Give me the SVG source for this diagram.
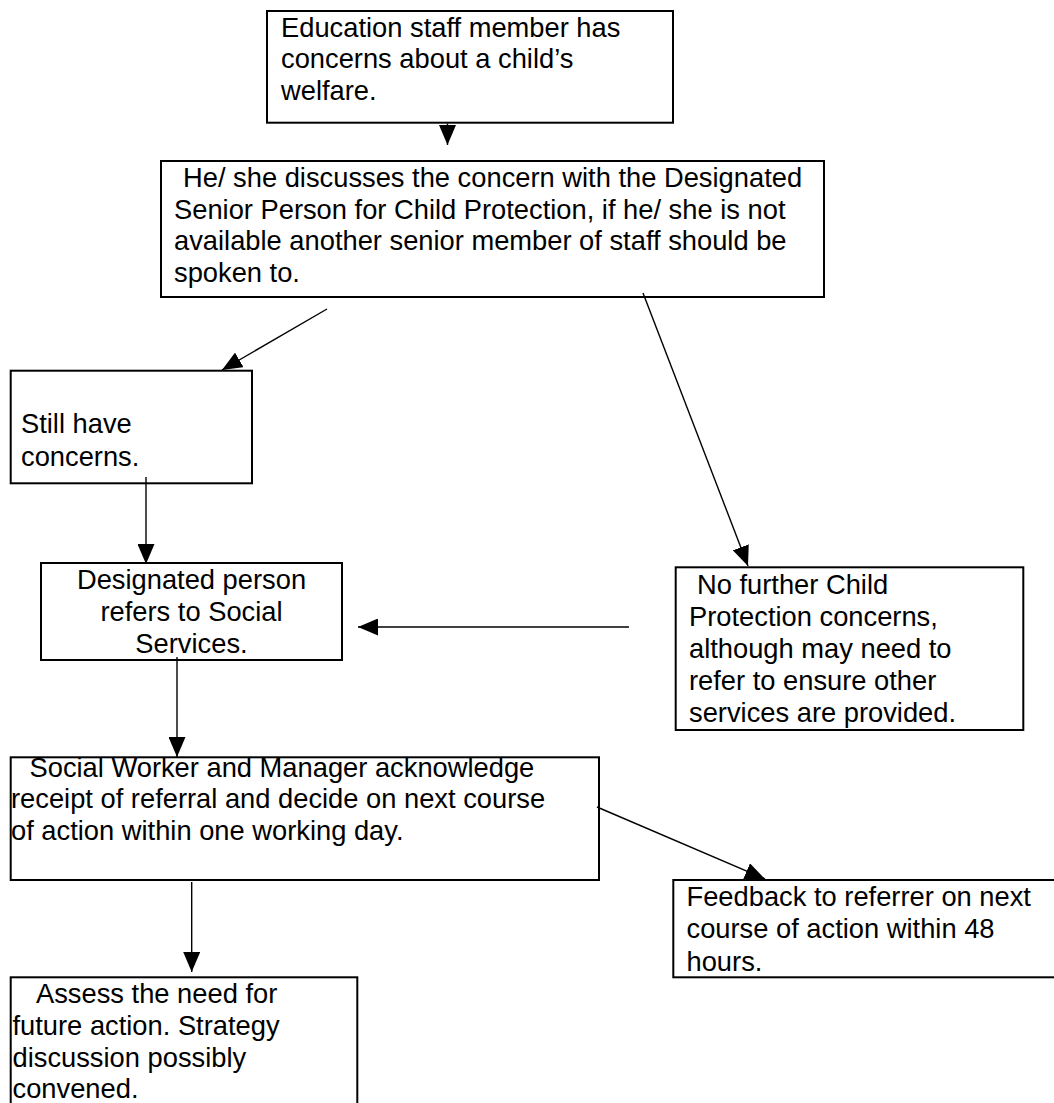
<svg xmlns="http://www.w3.org/2000/svg" width="1054" height="1103" viewBox="0 0 1054 1103">
<style>
.box{fill:#fff;stroke:#000;stroke-width:2}
.t{font-family:"Liberation Sans",Arial,sans-serif;font-size:27.3px;fill:#000}
.c{fill:none;stroke:#000;stroke-width:1.4}
</style>
<defs>
<marker id="ah" viewBox="0 0 20 17" refX="20" refY="8.5" markerWidth="20" markerHeight="17" markerUnits="userSpaceOnUse" orient="auto">
<path d="M0,0 L20,8.5 L0,17 Z" fill="#000"/>
</marker>
</defs>
<rect width="1054" height="1103" fill="#fff"/>
<g id="n1">
<rect class="box" x="267" y="11" width="406" height="111.7"/>
<text class="t"><tspan x="281" y="36.7">Education staff member has</tspan><tspan x="281" y="68.3">concerns about a child’s</tspan><tspan x="281" y="100">welfare.</tspan></text>
</g>
<g id="n2">
<rect class="box" x="161" y="161" width="663" height="136"/>
<text class="t"><tspan x="183" y="187.3">He/ she discusses the concern with the Designated</tspan><tspan x="174" y="218.8">Senior Person for Child Protection, if he/ she is not</tspan><tspan x="174" y="250.3">available another senior member of staff should be</tspan><tspan x="174" y="281.8">spoken to.</tspan></text>
</g>
<g id="n3">
<rect class="box" x="10.7" y="370.7" width="241.3" height="112.6"/>
<text class="t"><tspan x="21" y="433">Still have</tspan><tspan x="21" y="466">concerns.</tspan></text>
</g>
<g id="n4">
<rect class="box" x="41" y="563" width="301" height="97"/>
<text class="t" text-anchor="middle"><tspan x="191.5" y="589">Designated person</tspan><tspan x="191.5" y="620.8">refers to Social</tspan><tspan x="191.5" y="652.5">Services.</tspan></text>
</g>
<g id="n5">
<rect class="box" x="675.7" y="567.3" width="347.6" height="162.7"/>
<text class="t"><tspan x="697" y="594.3">No further Child</tspan><tspan x="689" y="626">Protection concerns,</tspan><tspan x="689" y="657.8">although may need to</tspan><tspan x="689" y="690">refer to ensure other</tspan><tspan x="689" y="721.7">services are provided.</tspan></text>
</g>
<g id="n6">
<rect class="box" x="10.7" y="757.3" width="588.3" height="122.7"/>
<text class="t"><tspan x="29.5" y="776.7">Social Worker and Manager acknowledge</tspan><tspan x="11" y="808.3">receipt of referral and decide on next course</tspan><tspan x="11" y="840">of action within one working day.</tspan></text>
</g>
<g id="n7">
<rect class="box" x="673.3" y="880" width="385" height="97.3"/>
<text class="t"><tspan x="686.5" y="906">Feedback to referrer on next</tspan><tspan x="686.5" y="938.3">course of action within 48</tspan><tspan x="686.5" y="970.7">hours.</tspan></text>
</g>
<g id="n8">
<rect class="box" x="10.7" y="977.3" width="346.6" height="140"/>
<text class="t"><tspan x="36" y="1003.3">Assess the need for</tspan><tspan x="12.5" y="1035">future action. Strategy</tspan><tspan x="12.5" y="1066.7">discussion possibly</tspan><tspan x="12.5" y="1098.3">convened.</tspan></text>
</g>
<g id="connectors">
<line class="c" x1="447.5" y1="123.5" x2="447.5" y2="145" marker-end="url(#ah)"/>
<line class="c" x1="327" y1="309" x2="222" y2="370" marker-end="url(#ah)"/>
<line class="c" x1="146" y1="477" x2="146" y2="564" marker-end="url(#ah)"/>
<line class="c" x1="177" y1="657" x2="177" y2="757" marker-end="url(#ah)"/>
<line class="c" x1="629" y1="627" x2="358" y2="627" marker-end="url(#ah)"/>
<line class="c" x1="643" y1="293" x2="748" y2="566" marker-end="url(#ah)"/>
<line class="c" x1="597" y1="807" x2="765" y2="879" marker-end="url(#ah)"/>
<line class="c" x1="191.7" y1="882" x2="191.7" y2="972" marker-end="url(#ah)"/>
</g>
</svg>
